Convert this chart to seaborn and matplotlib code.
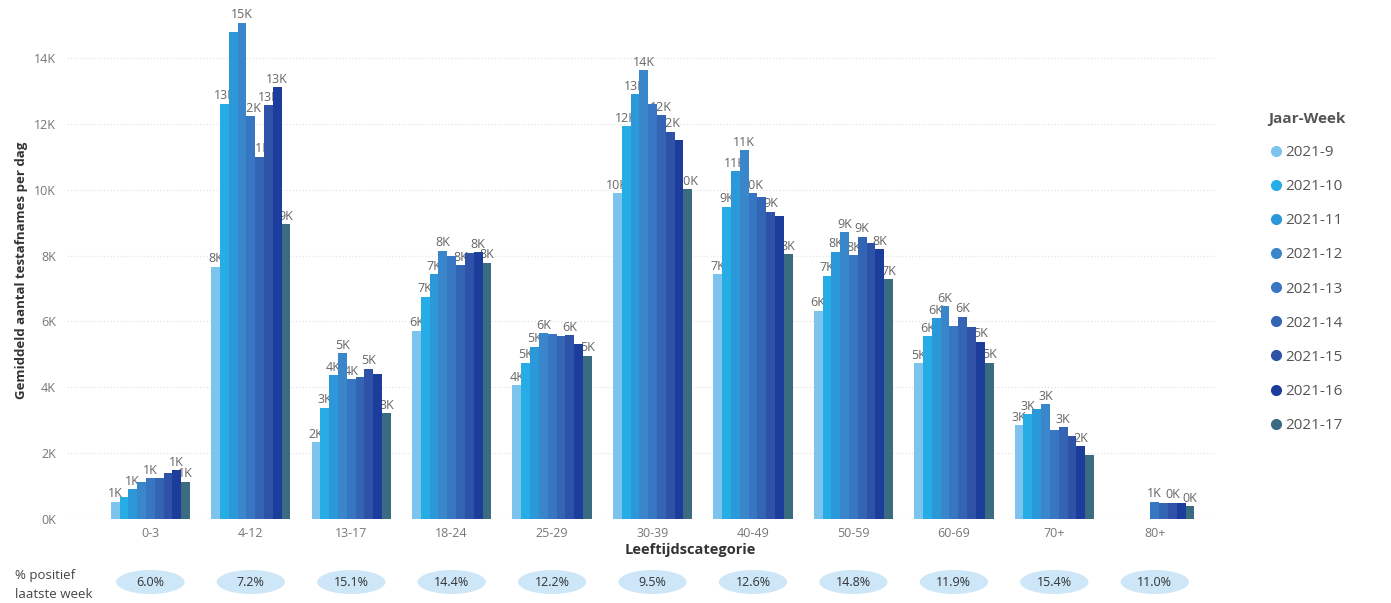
import numpy as np
import pandas as pd
import matplotlib
matplotlib.use("Agg")
import matplotlib.pyplot as plt
import seaborn as sns
from matplotlib.lines import Line2D
from matplotlib.patches import Ellipse
from matplotlib.ticker import FuncFormatter

# leeftijdscategorieen en weken
categorieen = ['0-3', '4-12', '13-17', '18-24', '25-29', '30-39', '40-49', '50-59', '60-69', '70+', '80+']
weken = ['2021-9', '2021-10', '2021-11', '2021-12', '2021-13', '2021-14', '2021-15', '2021-16', '2021-17']

# gemiddeld aantal testafnames per dag (per week, per categorie)
w09 = [530, 7660, 2330, 5720, 4070, 9890, 7430, 6330, 4730, 2850, np.nan]
w10 = [680, 12620, 3380, 6750, 4750, 11930, 9480, 7390, 5560, 3180, np.nan]
w11 = [910, 14780, 4370, 7440, 5230, 12900, 10570, 8120, 6090, 3350, np.nan]
w12 = [1110, 15070, 5030, 8150, 5640, 13630, 11210, 8710, 6470, 3480, np.nan]
w13 = [1240, 12240, 4250, 8000, 5610, 12600, 9890, 8020, 5860, 2700, 520]
w14 = [1240, 11000, 4320, 7710, 5560, 12270, 9790, 8570, 6140, 2780, 500]
w15 = [1390, 12560, 4560, 8090, 5590, 11760, 9330, 8390, 5840, 2520, 490]
w16 = [1480, 13110, 4400, 8100, 5330, 11510, 9210, 8200, 5380, 2220, 480]
w17 = [1130, 8950, 3210, 7780, 4960, 10010, 8050, 7290, 4750, 1940, 380]

# % positief laatste week
pct_positief = ['6.0%', '7.2%', '15.1%', '14.4%', '12.2%', '9.5%', '12.6%', '14.8%', '11.9%', '15.4%', '11.0%']

kleuren = ['#7cc3ee', '#27ade6', '#2b98d9', '#3a86cb', '#3676c2', '#3464b4', '#2d52a8', '#1c3d9c', '#3b6b80']

series = [w09, w10, w11, w12, w13, w14, w15, w16, w17]
rows = []
for week, vals in zip(weken, series):
    for cat, v in zip(categorieen, vals):
        if not np.isnan(v):
            rows.append([cat, week, v])
df = pd.DataFrame(rows, columns=['Leeftijdscategorie', 'Jaar-Week', 'Aantal'])

sns.set_theme(style='white')
plt.rcParams['font.family'] = ['Open Sans', 'DejaVu Sans']

fig = plt.figure(figsize=(13.91, 6.03), dpi=100)
ax = fig.add_axes([67 / 1391, 84 / 603, (1215 - 67) / 1391, 509 / 603])

sns.barplot(data=df, x='Leeftijdscategorie', y='Aantal', hue='Jaar-Week',
            order=categorieen, hue_order=weken, palette=dict(zip(weken, kleuren)),
            width=0.79, saturation=1, gap=0, legend=False, ax=ax, zorder=3,
            linewidth=0, errorbar=None)

ax.set_xlim(-0.83, 10.6)
ax.set_ylim(0, 15460)
ax.set_yticks(np.arange(0, 14001, 2000))
ax.yaxis.set_major_formatter(FuncFormatter(lambda v, p: f'{v / 1000:.0f}K'))
ax.set_xlabel('')
ax.set_ylabel('')
ax.tick_params(axis='both', length=0, labelsize=9, colors='#777777')
ax.tick_params(axis='x', pad=6)
ax.tick_params(axis='y', pad=8)
for s in ax.spines.values():
    s.set_visible(False)
ax.yaxis.grid(True, color='#e4e4e4', linestyle=':', linewidth=0.9)
ax.set_axisbelow(True)

# data labels (onder de balken, overlappende labels verbergen)
labels = []
for p in ax.patches:
    h = p.get_height()
    if np.isnan(h) or h <= 0:
        continue
    t = ax.annotate(f'{round(h / 1000):.0f}K', (p.get_x() + p.get_width() / 2, h),
                    xytext=(0, 1), textcoords='offset points', ha='center', va='bottom',
                    fontsize=9, color='#666666', zorder=2)
    labels.append((h, t))

fig.canvas.draw()
renderer = fig.canvas.get_renderer()
geplaatst = []
for h, t in sorted(labels, key=lambda x: -x[0]):
    bb = t.get_window_extent(renderer).expanded(0.85, 0.8)
    if any(bb.overlaps(o) for o in geplaatst):
        t.set_visible(False)
    else:
        geplaatst.append(bb)

# as-titels
fig.text(690 / 1391, 1 - 550 / 603, 'Leeftijdscategorie', ha='center', va='center',
         fontsize=10.5, fontweight='bold', color='#333333')
fig.text(22 / 1391, 1 - 270 / 603, 'Gemiddeld aantal testafnames per dag', ha='center',
         va='center', rotation=90, fontsize=9.5, fontweight='bold', color='#333333')

# rij met % positief
fig.text(15 / 1391, 1 - 575 / 603, '% positief', ha='left', va='center', fontsize=9.5, color='#444444')
fig.text(15 / 1391, 1 - 595 / 603, 'laatste week', ha='left', va='center', fontsize=9.5, color='#444444')
trans = ax.get_xaxis_transform()
y_rij = -(582 - 519) / 509
for i, pct in enumerate(pct_positief):
    e = Ellipse((i, y_rij), width=0.68, height=24 / 509, transform=trans,
                facecolor='#cde6f8', edgecolor='none', clip_on=False)
    ax.add_patch(e)
    ax.text(i, y_rij, pct, transform=trans, ha='center', va='center', fontsize=9,
            color='#333333', clip_on=False)

# legenda
handles = [Line2D([], [], marker='o', linestyle='', color=c, markersize=7) for c in kleuren]
leg = fig.legend(handles, weken, loc='upper left', bbox_to_anchor=(1262 / 1391, 1 - 106 / 603),
                 frameon=False, title='Jaar-Week', alignment='left', fontsize=11,
                 labelspacing=1.25, handletextpad=0.1, handlelength=1.0, borderaxespad=0)
leg.get_title().set_fontweight('bold')
leg.get_title().set_fontsize(11)
leg.get_title().set_color('#555555')
for t in leg.get_texts():
    t.set_color('#555555')

fig.savefig('out.png', dpi=100)
